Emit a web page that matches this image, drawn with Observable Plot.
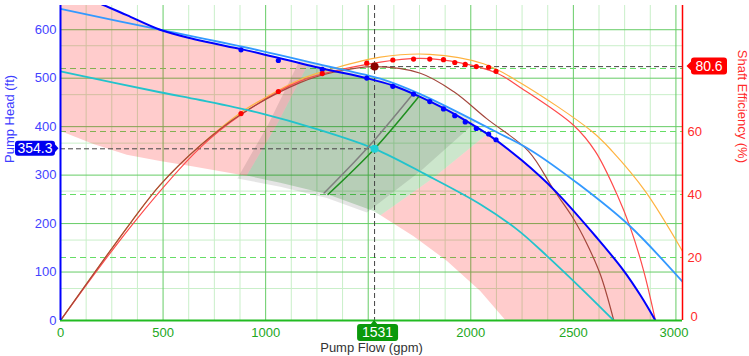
<!DOCTYPE html>
<html><head><meta charset="utf-8">
<script src="https://cdn.jsdelivr.net/npm/d3@7"></script>
<script src="https://cdn.jsdelivr.net/npm/@observablehq/plot@0.6"></script>
<style>
html,body{margin:0;padding:0;background:#fff;}
#chart{width:749px;height:356px;}
</style>
</head><body><div id="chart"></div>
<script>
// ---------- axis ticks & grid ----------
const flowTicks = [0, 500, 1000, 2000, 2500, 3000];   // 1500 sits under the flow tag
const headTicks = [0, 100, 200, 300, 400, 500, 600];
const effTicks  = [0, 20, 40, 60];                     // 80 sits under the efficiency tag
const flowMajor = [500, 1000, 1500, 2000, 2500, 3000];
const headMajor = [100, 200, 300, 400, 500, 600];
const flowMinor = [125,250,375,625,750,875,1125,1250,1375,1625,1750,1875,2125,2250,2375,2625,2750,2875];
const headMinor = [66, 166, 267, 366, 466, 567];
const effGrid   = [20, 40, 60, 80];
const FT_PER_PCT = 6.5;           // 0–100 % on the right spans 0–650 ft on the left

// ---------- head curves (gpm, ft) ----------
const dbFlow = [0,209,323,485,648,880,973,1276,1493,1620,1756,1867,1973,2087,2250,2412,2616,2745,2830,2900];
const dbHead = [685,651,630,600,581,560,551,520,500,485,461,438,413,383,330,267,170,103,50,0];
const lbFlow = [0,485,973,1276,1559,1754,2111,2290,2530,2770,3032];
const lbHead = [643,600,557,527,499,467,392,352,280,197,80];
const cyFlow = [0,485,680,973,1250,1531,1786,2046,2225,2372,2534,2697];
const cyHead = [514,471,455,428,395,354.3,300,240,188,133,68,0];

// ---------- efficiency curves (gpm, %) ----------
const orFlow = [0,347,485,680,876,973,1168,1331,1559,1800,2062,2241,2591,2690,2851,3032];
const orEff  = [0,31.5,43,55.5,65.9,69.8,76.5,80,83.6,84.5,81.5,75.5,60,53.7,41,22];
const rdFlow = [0,363,680,880,1168,1559,1754,1950,2128,2241,2501,2607,2713,2778,2843,2900];
const rdEff  = [0,31.5,54.8,65.3,76,82,83.2,81.8,78.5,74,62,53.7,40,29.4,15.7,0];
const brFlow = [0,347,485,680,880,1168,1331,1531,1754,1916,2079,2282,2404,2494,2567,2632,2697];
const brEff  = [0,31.5,43,55.5,65.5,75.5,78.8,80.6,78.5,72.7,64,53.7,41.5,33,24.2,14.5,0];

// ---------- test points ----------
const testFlow = [880,1062,1276,1493,1620,1721,1800,1867,1922,1973,2027,2087,2123];
const testHead = [558.6,536.5,518,500.3,483.3,467.2,451.7,436.6,422.7,409.7,396.4,384.8,373];
const testEff  = [65.7,72.7,78.4,81.7,82.7,83,83,82.8,81.9,81.3,80.6,80.4,79.1];

// ---------- operating point ----------
const opFlow = 1531, opHead = 354.3, opEff = 80.6;
const sysGreenFlow = [1304,1531,1745], sysGreenHead = [260,354.3,461];
const sysGrayFlow  = [1285,1500,1715], sysGrayHead  = [263,358,466];

// ---------- shaded regions (gpm, ft outlines) ----------
const aorLeft  = [[0,685],[209,651],[323,630],[485,600],[648,581],[880,560],[973,551],[1205,527],[1056,405],[908,299],[876,301],[648,318],[485,329],[323,342],[160,364],[0,391]];
const aorRight = [[2080,385],[2087,383],[2250,330],[2412,267],[2616,170],[2745,103],[2830,50],[2900,0],[2170,0],[2046,61],[1884,123],[1721,174],[1560,217],[1820,295],[2080,385]];
const porArea  = [[908,299],[1056,405],[1205,527],[1276,520],[1493,500],[1620,485],[1756,461],[1867,438],[1973,413],[2080,385],[1820,295],[1560,217],[1526,226],[1298,261],[1071,284],[908,299]];
const bepArea  = [[862,293],[1013,405],[1166,537],[1276,527],[1559,499],[1754,467],[2025,410],[1760,310],[1493,223],[1298,253],[1071,276],[862,293]];

// ---------- helpers ----------
const pts  = (xs, ys, k = 1) => xs.map((q, i) => ({q, h: ys[i] * k}));
const poly = arr => arr.map(([q, h]) => ({q, h}));
const curveOpts = (stroke, w) => ({x: "q", y: "h", stroke, strokeWidth: w, curve: "catmull-rom", clip: true});
const fillOpts  = (fill, op) => ({x: "q", y: "h", fill, fillOpacity: op, stroke: "none", curve: "linear", clip: true});

const BLUE = "#0000ff", RED = "#ff2b2b", GREEN_T = "#22a822";
const X_MAX = 3032;
const flowLast = flowTicks[flowTicks.length - 1];

const plot = Plot.plot({
  width: 749, height: 356,
  marginLeft: 60, marginRight: 67, marginTop: 5, marginBottom: 36,
  x: {domain: [0, X_MAX], axis: null},
  y: {domain: [0, 650], axis: null},
  style: {fontFamily: "Arial, 'Liberation Sans', sans-serif", fontSize: "13px", background: "#fff", overflow: "visible"},
  marks: [
    // grid
    Plot.ruleX(flowMinor, {stroke: "#c9efc9", strokeWidth: 1}),
    Plot.ruleY(headMinor, {stroke: "#c9efc9", strokeWidth: 1}),
    Plot.ruleX(flowMajor, {stroke: "#66cc66", strokeWidth: 1}),
    Plot.ruleY(headMajor, {stroke: "#66cc66", strokeWidth: 1}),
    Plot.ruleY(effGrid, {y: d => d * FT_PER_PCT, stroke: "#66dd66", strokeWidth: 1, strokeDasharray: "6,4"}),
    // shaded operating regions
    Plot.line(poly(aorLeft),  fillOpts("#ff0000", 0.2)),
    Plot.line(poly(aorRight), fillOpts("#ff0000", 0.2)),
    Plot.line(poly(porArea),  fillOpts("#008000", 0.2)),
    Plot.line(poly(bepArea),  fillOpts("#000000", 0.1)),
    // crosshair
    Plot.ruleX([opFlow], {stroke: "#444", strokeWidth: 1, strokeDasharray: "5,3"}),
    Plot.ruleY([opHead], {x1: 0, x2: opFlow, stroke: "#444", strokeWidth: 1, strokeDasharray: "5,3"}),
    Plot.ruleY([opEff * FT_PER_PCT], {x1: opFlow, x2: X_MAX, stroke: "#444", strokeWidth: 1, strokeDasharray: "5,3"}),
    // efficiency curves
    Plot.line(pts(orFlow, orEff, FT_PER_PCT), curveOpts("#ffb340", 1.2)),
    Plot.line(pts(rdFlow, rdEff, FT_PER_PCT), curveOpts("#ff4a4a", 1.2)),
    Plot.line(pts(brFlow, brEff, FT_PER_PCT), curveOpts("#a4473c", 1.2)),
    // head curves
    Plot.line(pts(lbFlow, lbHead), curveOpts("#3399ff", 1.8)),
    Plot.line(pts(cyFlow, cyHead), curveOpts("#22c3cc", 1.8)),
    Plot.line(pts(dbFlow, dbHead), curveOpts(BLUE, 2)),
    // system / affinity lines
    Plot.line(pts(sysGrayFlow, sysGrayHead), curveOpts("#808080", 1.5)),
    Plot.line(pts(sysGreenFlow, sysGreenHead), curveOpts("#1f8f1f", 1.5)),
    // test points
    Plot.dot(pts(testFlow, testHead), {x: "q", y: "h", r: 2.6, fill: BLUE, stroke: "none"}),
    Plot.dot(pts(testFlow, testEff, FT_PER_PCT), {x: "q", y: "h", r: 2.6, fill: "#ff0000", stroke: "none"}),
    // operating point markers
    Plot.dot([opFlow], {x: d => d, y: () => opHead, r: 4, fill: "#22d0d6", stroke: "none"}),
    Plot.dot([opFlow], {x: d => d, y: () => opEff * FT_PER_PCT, r: 4, fill: "#8b0000", stroke: "none"}),
    // axis lines
    Plot.ruleY([0], {stroke: "#22bb22", strokeWidth: 2}),
    Plot.ruleX([0], {stroke: BLUE, strokeWidth: 2}),
    Plot.ruleX([X_MAX], {stroke: "#ff0000", strokeWidth: 1.5}),
    // tick labels
    Plot.text(headTicks, {x: () => 0, y: d => d, text: d => String(d), textAnchor: "end", dx: -4, fill: "#4343ff", fontSize: 13}),
    Plot.text(flowTicks.filter(d => d !== flowLast), {x: d => d, y: () => 0, text: d => String(d), dy: 12.5, fill: GREEN_T, fontSize: 13}),
    Plot.text(flowTicks.filter(d => d === flowLast), {x: d => d, y: () => 0, text: d => String(d), dx: -2, dy: 12.5, fill: GREEN_T, fontSize: 13}),
    Plot.text(effTicks.filter(d => d !== 0), {x: () => X_MAX, y: d => d * FT_PER_PCT, text: d => String(d), textAnchor: "start", dx: 5, fill: RED, fontSize: 13}),
    Plot.text(effTicks.filter(d => d === 0), {x: () => X_MAX, y: d => d * FT_PER_PCT, text: d => String(d), textAnchor: "start", dx: 8, dy: -4, fill: RED, fontSize: 13}),
    // axis titles
    Plot.text(["Pump Head (ft)"], {frameAnchor: "left", dx: -51, rotate: -90, fill: "#3d3dff", fontSize: 13}),
    Plot.text(["Shaft Efficiency (%)"], {frameAnchor: "right", dx: 60, rotate: 90, fill: RED, fontSize: 13}),
    Plot.text(["Pump Flow (gpm)"], {frameAnchor: "bottom", dy: 31.5, fill: "#333", fontSize: 13})
  ]
});

document.getElementById("chart").appendChild(plot);

// ---------- value tags on the axes ----------
const svg = d3.select(plot);
const sx = plot.scale("x"), sy = plot.scale("y");
const g = svg.append("g").attr("font-family", "Arial, 'Liberation Sans', sans-serif").attr("font-size", 14);

function roundedBox(x0, y0, w, h, fill) {
  g.append("rect").attr("x", x0).attr("y", y0).attr("width", w).attr("height", h)
    .attr("rx", 3).attr("ry", 3).attr("fill", fill);
}
// left tag: head at operating point
{
  const yv = sy.apply(opHead), tip = 58.5;
  roundedBox(15, yv - 7.5, 40, 15, "#0000f0");
  g.append("path").attr("d", `M54,${yv - 5}L${tip},${yv}L54,${yv + 5}Z`).attr("fill", "#0000f0");
  g.append("text").attr("x", 35).attr("y", yv).attr("dy", "0.35em").attr("text-anchor", "middle")
    .attr("fill", "#fff").text(String(opHead));
}
// right tag: efficiency at operating point
{
  const yv = sy.apply(opEff * FT_PER_PCT), tip = 686.5;
  roundedBox(691, yv - 8.5, 36, 17, "#ff0000");
  g.append("path").attr("d", `M692,${yv - 5.5}L${tip},${yv}L692,${yv + 5.5}Z`).attr("fill", "#ff0000");
  g.append("text").attr("x", 709).attr("y", yv).attr("dy", "0.35em").attr("text-anchor", "middle")
    .attr("fill", "#fff").text(String(opEff));
}
// bottom tag: flow at operating point
{
  const xv = sx.apply(opFlow), top = 324;
  roundedBox(xv - 17, top, 41, 17, "#0b990b");
  g.append("path").attr("d", `M${xv - 4},${top + 1}L${xv},${top - 4}L${xv + 4},${top + 1}Z`).attr("fill", "#0b990b");
  g.append("text").attr("x", xv + 3.5).attr("y", top + 8.5).attr("dy", "0.35em").attr("text-anchor", "middle")
    .attr("fill", "#fff").text(String(opFlow));
}
</script></body></html>
